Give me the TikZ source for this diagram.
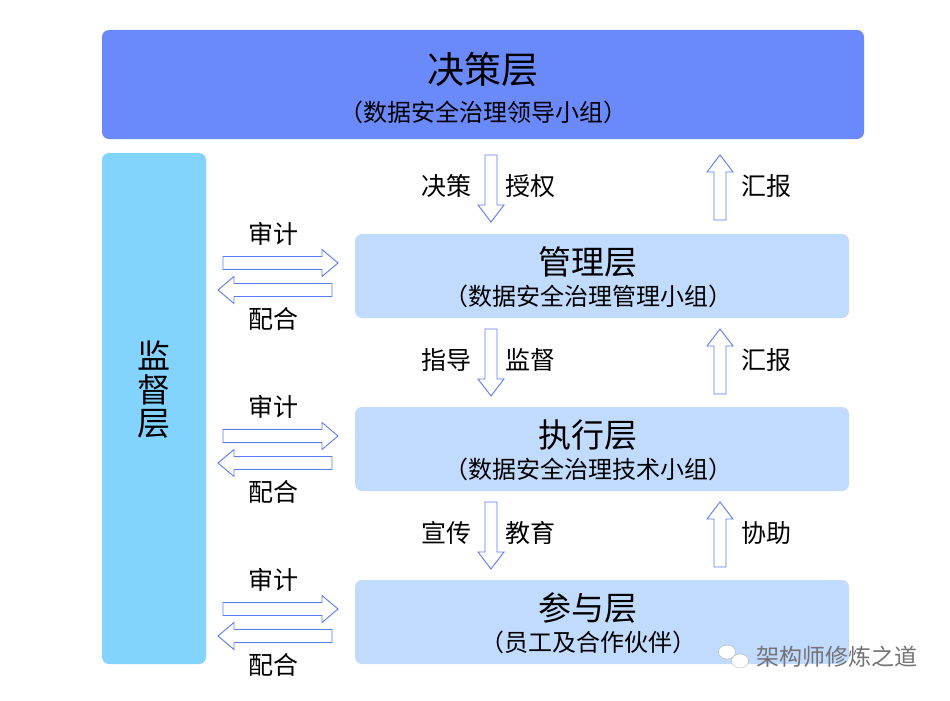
\documentclass[tikz,border=0pt]{standalone}
\usepackage{fontspec}
\setmainfont{Noto Sans CJK SC}
\usetikzlibrary{shapes.geometric}
\definecolor{topc}{HTML}{6A89FA}
\definecolor{monc}{HTML}{82D3FE}
\definecolor{layc}{HTML}{C1DBFE}
\definecolor{arrc}{HTML}{5B7BF5}
\tikzset{
  layer/.style={rounded corners=7pt,minimum width=494pt,minimum height=84pt,fill=layc,inner sep=0pt},
  arrl/.style={draw=arrc,fill=white,line width=0.9pt},
  lbl/.style={font=\fontsize{25}{28}\selectfont},
  t1/.style={font=\fontsize{37}{40}\selectfont},
  t2/.style={font=\fontsize{24}{28}\selectfont},
  t3/.style={font=\fontsize{33}{36}\selectfont},
}
\newcommand{\rarrow}[3]{\draw[arrl] (#1,#3-6.5) -- (#2-16,#3-6.5) -- (#2-16,#3-13.5) -- (#2,#3) -- (#2-16,#3+13.5) -- (#2-16,#3+6.5) -- (#1,#3+6.5) -- cycle;}
\newcommand{\larrow}[3]{\draw[arrl] (#2,#3-6.5) -- (#1+16,#3-6.5) -- (#1+16,#3-13.5) -- (#1,#3) -- (#1+16,#3+13.5) -- (#1+16,#3+6.5) -- (#2,#3+6.5) -- cycle;}
\newcommand{\darrow}[3]{\draw[arrl] (#1-6,#2) -- (#1-6,#3-17) -- (#1-13,#3-17) -- (#1,#3) -- (#1+13,#3-17) -- (#1+6,#3-17) -- (#1+6,#2) -- cycle;}
\newcommand{\uarrow}[3]{\draw[arrl] (#1-6,#3) -- (#1-6,#2+17) -- (#1-13,#2+17) -- (#1,#2) -- (#1+13,#2+17) -- (#1+6,#2+17) -- (#1+6,#3) -- cycle;}
\begin{document}
\begin{tikzpicture}[x=1pt,y=-1pt]
\useasboundingbox (0,0) rectangle (950,701);
\node[fill=topc,rounded corners=7pt,minimum width=762pt,minimum height=109pt] (top) at (483,84.5) {};
\node[t1] (toptitle) at (483,70) {决策层};
\node[t2] (topsub) at (483,112) {（数据安全治理领导小组）};
\node[fill=monc,rounded corners=7pt,minimum width=104pt,minimum height=511pt] (mon) at (154,408.5) {};
\node[t3] (m1) at (154,356) {监};
\node[t3] (m2) at (154,390) {督};
\node[t3] (m3) at (154,424) {层};
\foreach \n/\y/\a/\b in {mgmt/276/管理层/（数据安全治理管理小组）,exec/449/执行层/（数据安全治理技术小组）,part/622/参与层/（员工及合作伙伴）}{
  \node[layer] (\n) at (602,\y) {};
  \node[t3] (\n t) at (588,\y-14) {\a};
  \node[t2] (\n s) at (588,\y+20) {\b};
  \rarrow{223}{338}{\y-13}
  \larrow{218}{332}{\y+14}
  \node[lbl] (\n a) at (273,\y-42) {审计};
  \node[lbl] (\n b) at (273,\y+43) {配合};
}
\foreach \n/\y/\a/\b/\c in {d1/155/决策/授权/汇报,d2/329/指导/监督/汇报,d3/502/宣传/教育/协助}{
  \darrow{491}{\y}{\y+67}
  \uarrow{720}{\y}{\y+65}
  \node[lbl] (\n a) at (446,\y+31) {\a};
  \node[lbl] (\n b) at (530,\y+31) {\b};
  \node[lbl] (\n c) at (766,\y+31) {\c};
}
\node[font=\fontsize{23}{26}\selectfont,text=black!55] (wm) at (837,657) {架构师修炼之道};
\node[ellipse,draw=black!30,fill=white,minimum width=17pt,minimum height=14pt,inner sep=0pt] (ic1) at (727,652) {};
\node[ellipse,draw=black!30,fill=white,minimum width=17pt,minimum height=14pt,inner sep=0pt] (ic2) at (740,661) {};
\end{tikzpicture}
\end{document}
